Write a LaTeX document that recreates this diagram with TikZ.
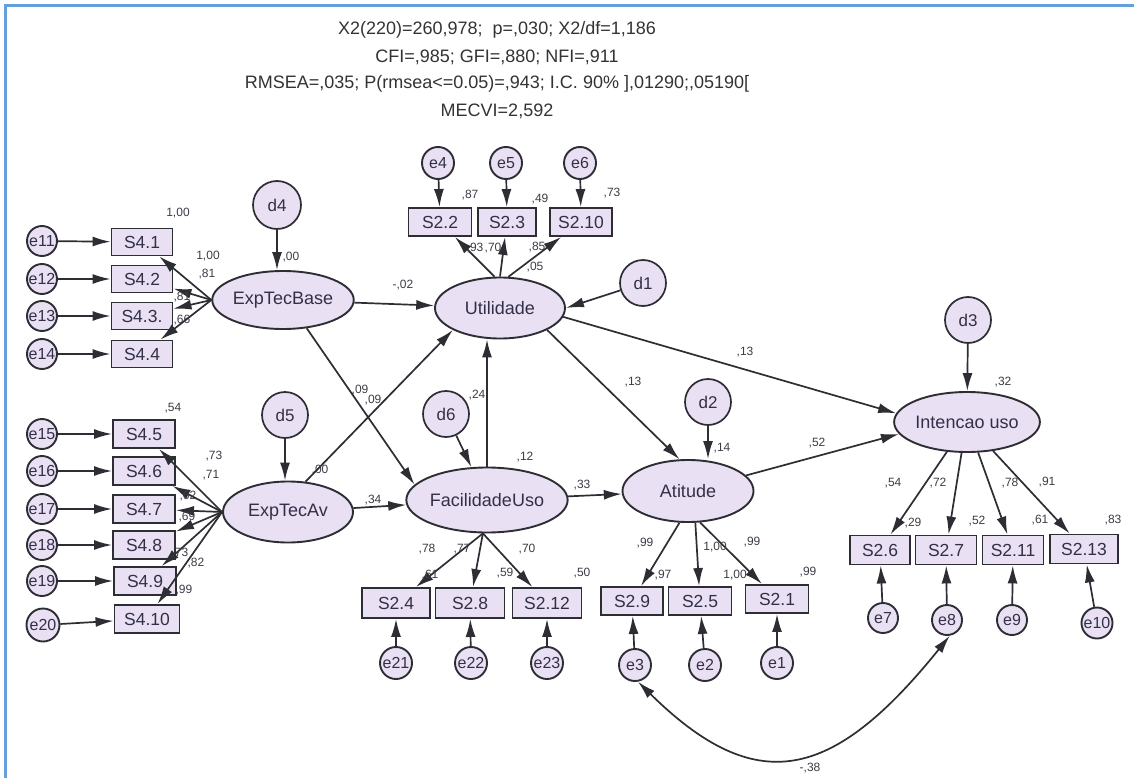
\documentclass[tikz,border=0pt]{standalone}
\usepackage{fontspec}
\setmainfont{Liberation Sans}
\usetikzlibrary{shapes.geometric,arrows.meta,calc}
\definecolor{nfill}{RGB}{234,224,243}
\definecolor{ntext}{RGB}{50,48,72}
\definecolor{nline}{RGB}{45,45,52}
\definecolor{blueline}{RGB}{100,160,220}
\definecolor{ltext}{RGB}{60,60,70}
\begin{document}
\begin{tikzpicture}[x=1pt,y=-1pt,
 latent/.style={ellipse,draw=nline,line width=1.9pt,fill=nfill,inner sep=0pt,text=ntext,font=\fontsize{18}{18}\selectfont},
 obsbox/.style={rectangle,draw=nline,line width=1.9pt,fill=nfill,inner sep=0pt,minimum height=28pt,text=ntext,font=\fontsize{17.5}{17.5}\selectfont},
 errc/.style={circle,draw=nline,line width=1.9pt,fill=nfill,inner sep=0pt,minimum size=30pt,text=ntext,font=\fontsize{16}{16}\selectfont},
 distc/.style={circle,draw=nline,line width=1.7pt,fill=nfill,inner sep=0pt,minimum size=46pt,text=ntext,font=\fontsize{17}{17}\selectfont},
 path1/.style={line width=1.7pt,draw=nline,-{Latex[length=18pt,width=10pt]}},
 cov/.style={line width=1.7pt,draw=nline,{Latex[length=18pt,width=10pt]}-{Latex[length=18pt,width=10pt]}},
 lbl/.style={text=ltext,font=\fontsize{12}{12}\selectfont,inner sep=0pt},
 ttl/.style={text=black!80,font=\fontsize{18}{18}\selectfont,inner sep=0pt}]
\useasboundingbox (0,0) rectangle (1134,778);
\fill[white] (0,0) rectangle (1134,778);
\draw[blueline,line width=2.6pt] (5.5,778) -- (5.5,5.5) -- (1134,5.5);

% title
\node[ttl] (t1) at (497,30) {X2(220)=260,978;\ \ p=,030; X2/df=1,186};
\node[ttl] (t2) at (497,57) {CFI=,985; GFI=,880; NFI=,911};
\node[ttl] (t3) at (497,84) {RMSEA=,035; P(rmsea<=0.05)=,943; I.C. 90\% ],01290;,05190[};
\node[ttl] (t4) at (497,111) {MECVI=2,592};

% latent variables
\node[latent,minimum width=130pt,minimum height=58pt] (ETB) at (283,300) {ExpTecBase};
\node[latent,minimum width=130pt,minimum height=61pt] (ETA) at (288,512) {ExpTecAv};
\node[latent,minimum width=130pt,minimum height=61pt] (Util) at (500,308) {Utilidade};
\node[latent,minimum width=145pt,minimum height=65pt] (Fac) at (487,500) {FacilidadeUso};
\node[latent,minimum width=131pt,minimum height=62pt] (Att) at (688,491) {Atitude};
\node[latent,minimum width=131pt,minimum height=60pt] (Int) at (967,422) {Intencao uso};

% disturbances
\node[distc,minimum size=48pt] (d4) at (277,205) {d4};
\node[distc] (d5) at (285,415) {d5};
\node[distc] (d6) at (446,414) {d6};
\node[distc] (d1) at (643,283) {d1};
\node[distc] (d2) at (708,402) {d2};
\node[distc] (d3) at (968,320) {d3};

% observed: ExpTecBase
\node[obsbox,minimum width=61pt,minimum height=27pt] (s41) at (142,242) {S4.1};
\node[obsbox,minimum width=61pt,minimum height=27pt] (s42) at (142,279) {S4.2};
\node[obsbox,minimum width=61pt,minimum height=27pt] (s43) at (142,316) {S4.3.};
\node[obsbox,minimum width=61pt,minimum height=27pt] (s44) at (142,354) {S4.4};
% observed: ExpTecAv
\node[obsbox,minimum width=62pt] (s45) at (144,434) {S4.5};
\node[obsbox,minimum width=62pt] (s46) at (144,471) {S4.6};
\node[obsbox,minimum width=62pt] (s47) at (144,509) {S4.7};
\node[obsbox,minimum width=62pt] (s48) at (144,545) {S4.8};
\node[obsbox,minimum width=62pt] (s49) at (145,581) {S4.9};
\node[obsbox,minimum width=65pt] (s410) at (147,619) {S4.10};
% observed: Utilidade
\node[obsbox,minimum width=63pt] (s22) at (440,222) {S2.2};
\node[obsbox,minimum width=58pt] (s23) at (507,222) {S2.3};
\node[obsbox,minimum width=62pt] (s210) at (581,222) {S2.10};
% observed: FacilidadeUso
\node[obsbox,minimum width=68pt,minimum height=30pt] (s24) at (396,603) {S2.4};
\node[obsbox,minimum width=69pt,minimum height=30pt] (s28) at (470,603) {S2.8};
\node[obsbox,minimum width=69pt,minimum height=30pt] (s212) at (547,603) {S2.12};
% observed: Atitude
\node[obsbox,minimum width=62pt] (s29) at (632,601) {S2.9};
\node[obsbox,minimum width=63pt] (s25) at (700,601) {S2.5};
\node[obsbox,minimum width=63pt] (s21) at (777,599) {S2.1};
% observed: Intencao uso
\node[obsbox,minimum width=60pt,minimum height=29pt] (s26) at (880,550) {S2.6};
\node[obsbox,minimum width=61pt,minimum height=29pt] (s27) at (946,550) {S2.7};
\node[obsbox,minimum width=61pt,minimum height=29pt] (s211) at (1013,550) {S2.11};
\node[obsbox,minimum width=68pt,minimum height=29pt] (s213) at (1084,549) {S2.13};

% error terms
\node[errc] (e11) at (42,241) {e11};
\node[errc] (e12) at (42,279) {e12};
\node[errc] (e13) at (42,316) {e13};
\node[errc] (e14) at (42,354) {e14};
\node[errc] (e15) at (42,434) {e15};
\node[errc] (e16) at (42,471) {e16};
\node[errc] (e17) at (42,509) {e17};
\node[errc] (e18) at (42,545) {e18};
\node[errc] (e19) at (42,581) {e19};
\node[errc,minimum size=33pt] (e20) at (43,625) {e20};
\node[errc,minimum size=32pt] (e4) at (438,163) {e4};
\node[errc,minimum size=32pt] (e5) at (506,163) {e5};
\node[errc,minimum size=32pt] (e6) at (580,163) {e6};
\node[errc,minimum size=32pt] (e21) at (396,663) {e21};
\node[errc,minimum size=32pt] (e22) at (471,663) {e22};
\node[errc,minimum size=32pt] (e23) at (547,663) {e23};
\node[errc,minimum size=32pt] (e3) at (635,665) {e3};
\node[errc,minimum size=32pt] (e2) at (705,665) {e2};
\node[errc,minimum size=32pt] (e1) at (777,663) {e1};
\node[errc] (e7) at (883,618) {e7};
\node[errc] (e8) at (947,620) {e8};
\node[errc] (e9) at (1012,620) {e9};
\node[errc,minimum size=31pt] (e10) at (1097,623) {e10};

% error -> indicator
\foreach \e/\s in {e11/s41,e12/s42,e13/s43,e14/s44,e15/s45,e16/s46,e17/s47,e18/s48,e19/s49,e20/s410,
  e4/s22,e5/s23,e6/s210,e21/s24,e22/s28,e23/s212,e3/s29,e2/s25,e1/s21,e7/s26,e8/s27,e9/s211,e10/s213}
  \draw[path1] (\e) -- (\s);

% loadings
\foreach \s in {s41,s42,s43,s44} \draw[path1] (ETB.west) -- (\s);
\foreach \s in {s45,s46,s47,s48,s49,s410} \draw[path1] (ETA.west) -- (\s);
\draw[path1] (Util.100) -- (s22);
\draw[path1] (Util.north) -- (s23);
\draw[path1] (Util.75) -- (s210);
\foreach \s in {s24,s28,s212} \draw[path1] (Fac.263) -- (\s);
\draw[path1] (Att.255) -- (s29);
\draw[path1] (Att.283) -- (s25);
\draw[path1] (Att.291) -- (s21);
\draw[path1] (Int.236) -- (s26);
\draw[path1] (Int.260) -- (s27);
\draw[path1] (Int.290) -- (s211);
\draw[path1] (Int.312) -- (s213);

% disturbances -> latents
\draw[path1] (d4) -- (d4 |- ETB.north);
\draw[path1] (d5) -- (d5 |- ETA.north);
\draw[path1] (d6) -- (Fac);
\draw[path1] (d1) -- (Util.east);
\draw[path1] (d2) -- (d2 |- Att.north);
\draw[path1] (d3) -- (Int);

% structural paths
\draw[path1] (ETB) -- (Util);
\draw[path1] (ETB.310) -- (Fac.168);
\draw[path1] (ETA.60) -- (Util.205);
\draw[path1] (ETA) -- (Fac);
\draw[path1] (Fac.north) -- (Fac.north |- Util.south);
\draw[path1] (Fac) -- (Att);
\draw[path1] (Util.335) -- (Att.105);
\draw[path1] (Util.352) -- (Int.173);
\draw[path1] (Att.15) -- (Int.190);

% covariance
\draw[cov] (e3.-80) .. controls (756,798) and (832,782) .. (e8.-80);

% labels: ExpTecBase block
\node[lbl] at (178,213) {1,00};
\node[lbl] at (291,257) {,00};
\node[lbl] at (208,256) {1,00};
\node[lbl] at (207,274) {,81};
\node[lbl] at (182,297) {,81};
\node[lbl] at (182,320) {,66};
% ExpTecAv block
\node[lbl] at (173,408) {,54};
\node[lbl] at (214,456) {,73};
\node[lbl] at (211,475) {,71};
\node[lbl] at (188,496) {,62};
\node[lbl] at (187,517) {,69};
\node[lbl] at (180,553) {,73};
\node[lbl] at (196,563) {,82};
\node[lbl] at (184,590) {,99};
\node[lbl] at (320,470) {,00};
% Utilidade block
\node[lbl] at (470,195) {,87};
\node[lbl] at (540,199) {,49};
\node[lbl] at (612,193) {,73};
\node[lbl] at (475,248) {,93};
\node[lbl] at (493,248) {,70};
\node[lbl] at (537,247) {,85};
\node[lbl] at (535,267) {,05};
% structural labels
\node[lbl] at (403,285) {-,02};
\node[lbl] at (360,390) {,09};
\node[lbl] at (373,400) {,09};
\node[lbl] at (373,500) {,34};
\node[lbl] at (477,395) {,24};
\node[lbl] at (525,457) {,12};
\node[lbl] at (582,485) {,33};
\node[lbl] at (633,382) {,13};
\node[lbl] at (745,352) {,13};
\node[lbl] at (722,448) {,14};
\node[lbl] at (817,443) {,52};
\node[lbl] at (1003,382) {,32};
% FacilidadeUso block
\node[lbl] at (427,549) {,78};
\node[lbl] at (462,549) {,77};
\node[lbl] at (527,549) {,70};
\node[lbl] at (430,575) {,61};
\node[lbl] at (505,573) {,59};
\node[lbl] at (582,573) {,50};
% Atitude block
\node[lbl] at (645,543) {,99};
\node[lbl] at (715,547) {1,00};
\node[lbl] at (752,542) {,99};
\node[lbl] at (663,575) {,97};
\node[lbl] at (735,575) {1,00};
\node[lbl] at (808,572) {,99};
% Intencao block
\node[lbl] at (893,483) {,54};
\node[lbl] at (938,483) {,72};
\node[lbl] at (1010,483) {,78};
\node[lbl] at (1047,482) {,91};
\node[lbl] at (913,523) {,29};
\node[lbl] at (977,521) {,52};
\node[lbl] at (1040,520) {,61};
\node[lbl] at (1113,520) {,83};
% covariance label
\node[lbl] at (810,768) {-,38};
\end{tikzpicture}
\end{document}
